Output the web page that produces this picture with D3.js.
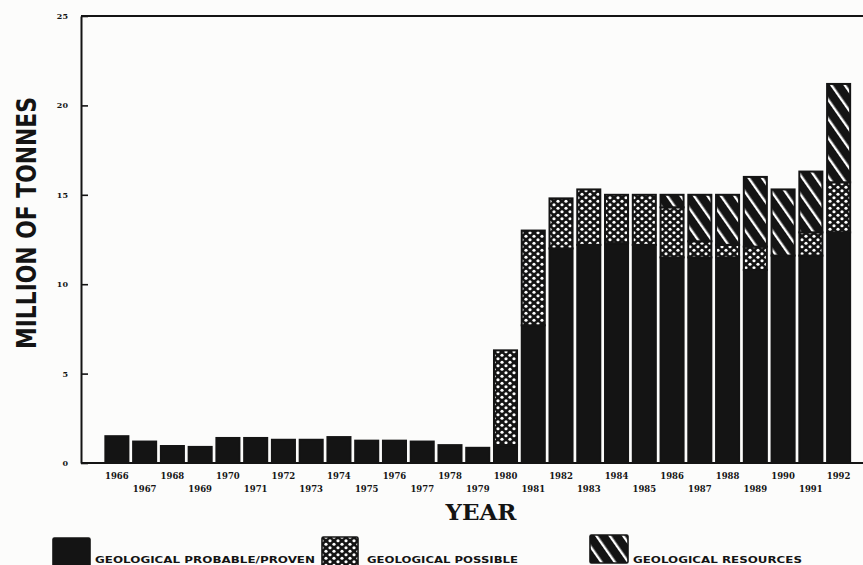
<!DOCTYPE html>
<html>
<head>
<meta charset="utf-8">
<script src="https://cdn.jsdelivr.net/npm/d3@7"></script>
<style>
  html, body { margin: 0; padding: 0; background: #fcfcfb; }
  svg { display: block; }
</style>
</head>
<body>
<svg id="chart" width="863" height="565"></svg>
<script>
// ---- data ----
const years = [1966,1967,1968,1969,1970,1971,1972,1973,1974,1975,1976,1977,1978,1979,
               1980,1981,1982,1983,1984,1985,1986,1987,1988,1989,1990,1991,1992];
const probableProven = [1.5,1.2,0.95,0.9,1.4,1.4,1.3,1.3,1.45,1.25,1.25,1.2,1.0,0.85,
                        1.0,7.7,12.0,12.2,12.3,12.2,11.5,11.5,11.5,10.8,11.6,11.6,12.9];
const possible =       [0,0,0,0,0,0,0,0,0,0,0,0,0,0,
                        5.3,5.3,2.8,3.1,2.7,2.8,2.8,0.9,0.7,1.3,0,1.3,2.8];
const resources =      [0,0,0,0,0,0,0,0,0,0,0,0,0,0,
                        0,0,0,0,0,0,0.7,2.6,2.8,3.9,3.7,3.4,5.5];
const yTicks = [0,5,10,15,20,25];
const seriesKeys = ["proven","possible","resources"];
const seriesLabels = ["GEOLOGICAL PROBABLE/PROVEN","GEOLOGICAL POSSIBLE","GEOLOGICAL RESOURCES"];

// ---- setup ----
const svg = d3.select("#chart");
const ink = "#141414";
const axisX = 81, yBottom = 463, yTop = 16, rightEdge = 863;

const x = d3.scaleBand().domain(years).range([103, 852.5]).paddingInner(0.17).paddingOuter(0.085);
const y = d3.scaleLinear().domain([0,25]).range([yBottom, yTop]);

// patterns
const defs = svg.append("defs");
const dots = defs.append("pattern").attr("id","dots").attr("patternUnits","userSpaceOnUse")
  .attr("width",8).attr("height",7);
dots.append("rect").attr("width",8).attr("height",7).attr("fill",ink);
dots.append("circle").attr("cx",2).attr("cy",1.75).attr("r",1.6).attr("fill","#fff");
dots.append("circle").attr("cx",6).attr("cy",5.25).attr("r",1.6).attr("fill","#fff");

const stripes = defs.append("pattern").attr("id","stripes").attr("patternUnits","userSpaceOnUse")
  .attr("width",11).attr("height",11).attr("patternTransform","rotate(-35)");
stripes.append("rect").attr("width",11).attr("height",11).attr("fill",ink);
stripes.append("rect").attr("x",4).attr("y",0).attr("width",2.4).attr("height",11).attr("fill","#fff");

const fills = {proven: ink, possible: "url(#dots)", resources: "url(#stripes)"};

// ---- stacked bars ----
const table = years.map((yr,i) => ({year: yr, proven: probableProven[i], possible: possible[i], resources: resources[i]}));
const stacked = d3.stack().keys(seriesKeys)(table);

svg.append("g").selectAll("g").data(stacked).join("g")
  .attr("fill", d => fills[d.key])
  .selectAll("rect").data(d => d.filter(s => s[1] - s[0] > 0)).join("rect")
  .attr("x", d => x(d.data.year))
  .attr("width", x.bandwidth())
  .attr("y", d => y(d[1]))
  .attr("height", d => y(d[0]) - y(d[1]))
  .attr("stroke", ink).attr("stroke-width", 2);

// ---- axes ----
const yAxis = d3.axisLeft(y).tickValues(yTicks).tickSize(-7).tickSizeOuter(0).tickPadding(13)
  .tickFormat(d3.format("d"));
const gy = svg.append("g").attr("transform", `translate(${axisX},0)`).call(yAxis);
gy.select(".domain").attr("stroke", ink).attr("stroke-width", 2);
gy.selectAll(".tick line").attr("stroke", ink).attr("stroke-width", 1.6);
gy.selectAll(".tick text").attr("fill", ink)
  .style("font-family","'DejaVu Serif', serif").style("font-weight","bold").style("font-size","8px");

// top frame and baseline
svg.append("line").attr("x1",axisX).attr("x2",rightEdge).attr("y1",y(25)).attr("y2",y(25))
  .attr("stroke",ink).attr("stroke-width",2);
svg.append("line").attr("x1",axisX).attr("x2",rightEdge).attr("y1",y(0)).attr("y2",y(0))
  .attr("stroke",ink).attr("stroke-width",2);

// x labels, alternating rows
svg.append("g").selectAll("text").data(years).join("text")
  .attr("x", d => x(d) + x.bandwidth()/2)
  .attr("y", (d,i) => i % 2 === 0 ? 479 : 492)
  .attr("text-anchor","middle")
  .attr("fill", ink)
  .style("font-family","'DejaVu Serif', serif").style("font-weight","bold").style("font-size","8.5px")
  .text(d => d);

// axis titles
svg.append("text").attr("x",481).attr("y",520).attr("text-anchor","middle").attr("fill",ink)
  .style("font-family","'DejaVu Serif', serif").style("font-weight","bold").style("font-size","23px")
  .text("YEAR");

svg.append("text").attr("transform","translate(36,223) rotate(-90)").attr("text-anchor","middle")
  .attr("fill",ink)
  .attr("textLength",252).attr("lengthAdjust","spacingAndGlyphs")
  .style("font-family","'DejaVu Sans Condensed','DejaVu Sans', sans-serif").style("font-weight","bold")
  .style("font-size","27px")
  .text("MILLION OF TONNES");

// ---- legend ----
const legendItems = [
  {key:"proven",    box:[53,538,37,30], tx:95,  tl:220},
  {key:"possible",  box:[322,537,36,29], tx:367, tl:151},
  {key:"resources", box:[590,535,38,28], tx:633, tl:169}
];
const lg = svg.append("g");
legendItems.forEach((it,i) => {
  lg.append("rect").attr("x",it.box[0]).attr("y",it.box[1]).attr("width",it.box[2]).attr("height",it.box[3])
    .attr("fill", fills[it.key]).attr("stroke",ink).attr("stroke-width",1.6).attr("rx",1.5);
  lg.append("text").attr("x",it.tx).attr("y",563).attr("fill",ink)
    .attr("textLength",it.tl).attr("lengthAdjust","spacingAndGlyphs")
    .style("font-family","'DejaVu Sans', sans-serif").style("font-weight","bold").style("font-size","9.5px")
    .text(seriesLabels[i]);
});
</script>
</body>
</html>
